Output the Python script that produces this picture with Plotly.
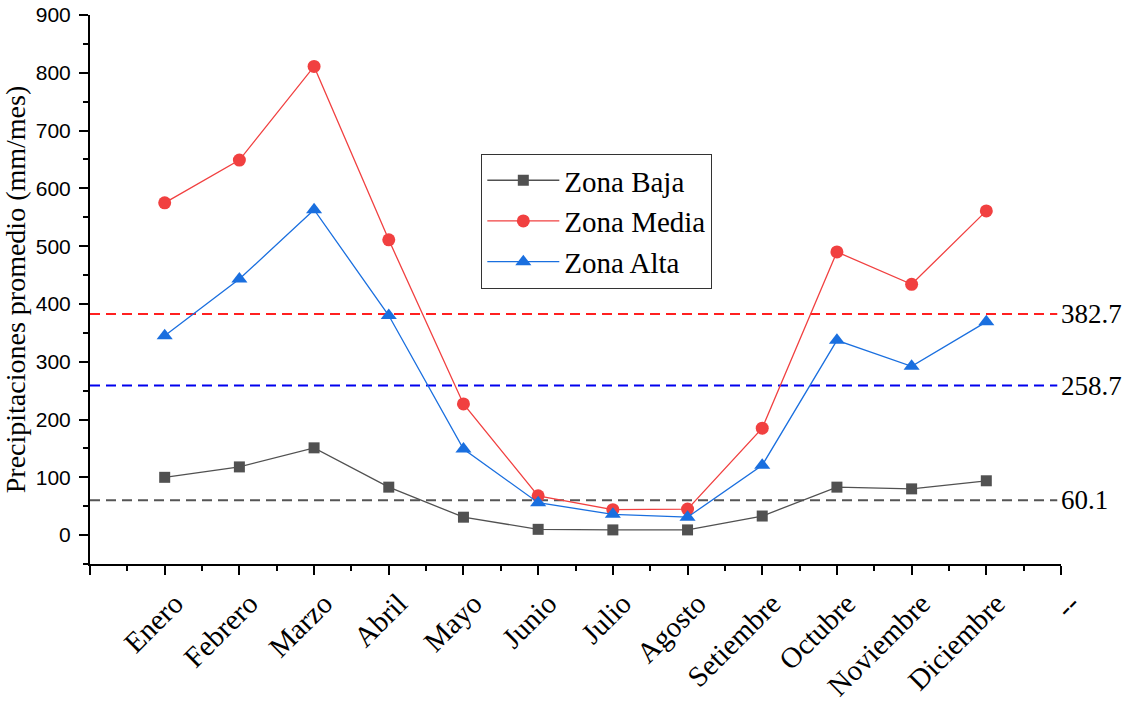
import plotly.graph_objects as go

months = ["Enero", "Febrero", "Marzo", "Abril", "Mayo", "Junio", "Julio",
          "Agosto", "Setiembre", "Octubre", "Noviembre", "Diciembre"]
zona_baja = [100, 118, 151, 83, 31, 10, 9, 9, 33, 83, 80, 94]
zona_media = [575, 649, 811, 511, 227, 68, 44, 45, 185, 490, 434, 561]
zona_alta = [345, 443, 563, 380, 149, 56, 36, 31, 121, 337, 292, 369]
ref_values = [382.7, 258.7, 60.1]
ref_colors = ["#FF2020", "#0000EE", "#555555"]

x_pos = list(range(1, len(months) + 1))
tick_vals = list(range(0, len(months) + 2))
tick_text = [""] + months + ["--"]

SERIF = "Liberation Serif"
SANS = "Liberation Sans"

fig = go.Figure()
series = [
    ("Zona Baja", zona_baja, "#515151", "square", 11),
    ("Zona Media", zona_media, "#F14040", "circle", 13),
    ("Zona Alta", zona_alta, "#1A6FDF", "triangle-up", 14),
]
for name, vals, color, sym, size in series:
    fig.add_trace(go.Scatter(
        x=x_pos, y=vals, name=name, mode="lines+markers",
        line=dict(color=color, width=1.3),
        marker=dict(symbol=sym, size=size, color=color),
    ))

for val, col in zip(ref_values, ref_colors):
    fig.add_shape(type="line", xref="x", yref="y", x0=0, x1=12.95, y0=val, y1=val,
                  line=dict(color=col, width=2, dash="10px,6px"), layer="below")
    fig.add_annotation(x=13, y=val, xref="x", yref="y", text=f"{val:.1f}",
                       showarrow=False, xanchor="left", yanchor="middle", xshift=-2,
                       font=dict(family=SERIF, size=27, color="black"))

axis_common = dict(showline=True, linecolor="black", linewidth=2, ticks="outside",
                   tickwidth=2, tickcolor="black", showgrid=False, zeroline=False,
                   mirror=False, automargin=False)

fig.update_xaxes(range=[0, 13], tickvals=tick_vals, ticktext=tick_text, tickangle=-45,
                 ticklen=9, ticklabelshift=10,
                 tickfont=dict(family=SERIF, size=29, color="black"),
                 minor=dict(dtick=0.5, tick0=0, ticks="outside", ticklen=5, tickwidth=2,
                            tickcolor="black"),
                 **axis_common)
fig.update_yaxes(range=[-50, 900], dtick=100, tick0=0, ticklen=9, ticklabelstandoff=4,
                 tickfont=dict(family=SANS, size=21, color="black"),
                 minor=dict(dtick=50, ticks="outside", ticklen=5, tickwidth=2,
                            tickcolor="black"),
                 title=dict(text="Precipitaciones promedio (mm/mes)",
                            font=dict(family=SERIF, size=28, color="black"),
                            standoff=3),
                 **axis_common)

fig.update_layout(
    width=1126, height=704,
    margin=dict(l=90, r=65, t=15, b=140),
    plot_bgcolor="white", paper_bgcolor="white",
    showlegend=True,
    legend=dict(x=0.403, y=0.747, xanchor="left", yanchor="top",
                bordercolor="#333333", borderwidth=1, bgcolor="white",
                font=dict(family=SERIF, size=29, color="black"),
                tracegroupgap=0, itemwidth=72),
)

fig.write_html("out.html", config={"displayModeBar": False},
               post_script="document.body.style.margin='0';")
